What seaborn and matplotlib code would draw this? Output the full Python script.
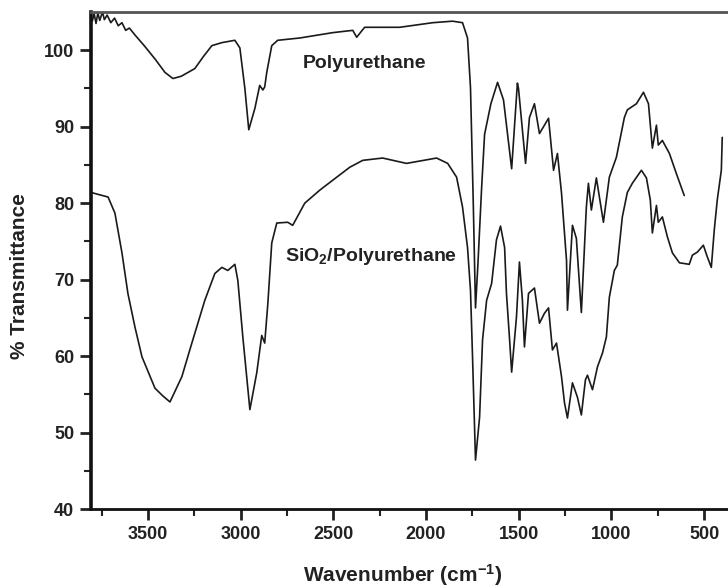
import matplotlib
matplotlib.use("Agg")
import matplotlib.pyplot as plt
import seaborn as sns
import numpy as np
import pandas as pd

# ---- data ----
pu_wn = [3807, 3800, 3790, 3780, 3770, 3760, 3745, 3735, 3720, 3700, 3680, 3660, 3640, 3620,
         3600, 3570, 3520, 3460, 3408, 3365, 3320, 3247, 3200, 3155, 3100, 3031, 3004, 2977,
         2956, 2923, 2897, 2880, 2870, 2859, 2832, 2800, 2681, 2503, 2395, 2374, 2331, 2142,
         1964, 1857, 1803, 1776, 1760, 1745, 1733, 1720, 1700, 1684, 1650, 1614, 1582, 1560,
         1538, 1507, 1501, 1463, 1442, 1415, 1388, 1366, 1339, 1312, 1291, 1269, 1242, 1237,
         1210, 1189, 1162, 1135, 1124, 1108, 1081, 1043, 1011, 973, 930, 914, 865, 827, 800,
         779, 757, 747, 725, 687, 650, 607]
pu_t = [104.0, 103.8, 104.8, 103.5, 104.9, 103.9, 105.0, 104.0, 104.6, 103.6, 104.2, 103.2, 103.6,
        102.6, 102.9, 102.0, 100.6, 98.8, 97.1, 96.3, 96.6, 97.6, 99.2, 100.6, 101.0, 101.3, 100.3,
        95.0, 89.6, 92.4, 95.4, 94.8, 95.2, 97.1, 100.6, 101.3, 101.6, 102.3, 102.6, 101.7, 103.0,
        103.0, 103.6, 103.8, 103.6, 101.6, 95.1, 80.0, 66.3, 72.0, 82.0, 89.0, 93.0, 95.8, 93.5,
        89.0, 84.5, 95.7, 95.0, 85.2, 91.2, 93.0, 89.1, 90.0, 91.1, 84.3, 86.5, 81.3, 72.5, 66.0,
        77.1, 75.4, 65.7, 79.5, 82.6, 79.1, 83.3, 77.5, 83.4, 86.0, 91.2, 92.2, 93.0, 94.5, 93.0,
        87.2, 90.2, 87.6, 88.2, 86.5, 83.9, 81.0]

sp_wn = [3807, 3715, 3678, 3640, 3608, 3570, 3532, 3462, 3420, 3381, 3317, 3263, 3193, 3139,
         3101, 3069, 3031, 3015, 2988, 2950, 2913, 2886, 2870, 2853, 2832, 2805, 2746, 2719,
         2654, 2573, 2503, 2411, 2341, 2234, 2105, 1943, 1883, 1835, 1803, 1776, 1760, 1749,
         1733, 1711, 1695, 1673, 1646, 1620, 1598, 1576, 1566, 1549, 1538, 1512, 1496, 1480,
         1469, 1447, 1415, 1388, 1361, 1339, 1318, 1296, 1269, 1253, 1237, 1210, 1183, 1162,
         1140, 1129, 1102, 1075, 1048, 1027, 1011, 984, 968, 941, 914, 887, 838, 811, 790, 779,
         757, 747, 725, 698, 671, 633, 580, 563, 536, 504, 483, 461, 445, 429, 407, 402]
sp_t = [81.4, 80.8, 78.7, 73.5, 68.2, 63.8, 59.9, 55.8, 54.8, 54.0, 57.3, 61.7, 67.3, 70.8, 71.6,
        71.2, 72.0, 69.9, 62.5, 53.0, 57.8, 62.7, 61.7, 66.9, 74.8, 77.4, 77.5, 77.1, 80.0, 81.7,
        83.0, 84.7, 85.6, 85.9, 85.2, 85.9, 85.2, 83.4, 79.5, 74.2, 68.6, 59.9, 46.4, 52.0, 62.1,
        67.3, 69.5, 75.2, 77.0, 74.2, 68.2, 62.1, 57.9, 65.1, 72.3, 67.3, 61.2, 68.2, 68.9, 64.3,
        65.6, 66.3, 60.8, 61.7, 57.3, 53.9, 51.9, 56.5, 54.6, 52.3, 56.9, 57.5, 55.6, 58.6, 60.4,
        62.5, 67.7, 71.2, 71.9, 78.2, 81.4, 82.6, 84.3, 83.3, 80.4, 76.1, 79.7, 77.5, 78.2, 75.6,
        73.5, 72.2, 72.0, 73.2, 73.6, 74.5, 73.0, 71.6, 76.5, 80.4, 84.3, 88.6]

x_ticks = [3500, 3000, 2500, 2000, 1500, 1000, 500]
y_ticks = [40, 50, 60, 70, 80, 90, 100]
label_pu = "Polyurethane"
label_sp = r"$\mathbf{SiO_2/Polyurethane}$"
x_label = r"Wavenumber (cm$^{\mathbf{-1}}$)"
y_label = "% Transmittance"

# ---- style ----
sns.set_style("ticks")
plt.rcParams['font.family'] = ['Liberation Sans', 'DejaVu Sans']
plt.rcParams['font.weight'] = 'bold'
plt.rcParams['mathtext.fontset'] = 'custom'
plt.rcParams['mathtext.rm'] = 'Liberation Sans:bold'
plt.rcParams['mathtext.bf'] = 'Liberation Sans:bold'
plt.rcParams['mathtext.it'] = 'Liberation Sans:bold'

fig = plt.figure(figsize=(7.28, 5.87), dpi=100)
ax = fig.add_axes([91/728, 1 - 509/587, 1 - 91/728, (509 - 12)/587])

df_pu = pd.DataFrame({"wn": pu_wn, "T": pu_t})
df_sp = pd.DataFrame({"wn": sp_wn, "T": sp_t})
sns.lineplot(data=df_pu, x="wn", y="T", ax=ax, color="#1a1a1a", lw=1.2, sort=False, estimator=None)
sns.lineplot(data=df_sp, x="wn", y="T", ax=ax, color="#1a1a1a", lw=1.2, sort=False, estimator=None)

ax.set_xlim(3807, 371)
ax.set_ylim(40, 105)
ax.set_xticks(x_ticks)
ax.set_yticks(y_ticks)
ax.set_xticks(np.arange(3750, 300, -500), minor=True)
ax.set_yticks(np.arange(45, 105, 10), minor=True)
ax.tick_params(axis='both', which='major', direction='out', length=8, width=2,
               labelsize=13, colors='#222222')
ax.tick_params(axis='both', which='minor', direction='out', length=5, width=1.5, color='#222222')
ax.tick_params(axis='x', which='major', pad=4)
ax.tick_params(axis='y', which='major', pad=4)
for lab in ax.get_xticklabels() + ax.get_yticklabels():
    lab.set_fontweight('bold')

ax.spines['left'].set_linewidth(2.6)
ax.spines['bottom'].set_linewidth(2.0)
ax.spines['top'].set_visible(True)
ax.spines['top'].set_linewidth(2.0)
ax.spines['top'].set_color('#555555')
ax.spines['right'].set_visible(False)
for s in ['left', 'bottom']:
    ax.spines[s].set_color('#111111')

ax.set_xlabel(x_label, fontsize=15, fontweight='bold', color='#222222')
ax.set_ylabel(y_label, fontsize=15, fontweight='bold', color='#222222')
ax.xaxis.set_label_coords((403 - 91) / 637, (509 - 562) / 497)
ax.yaxis.set_label_coords((29 - 91) / 637, (509 - 276) / 497)

ax.text(2665, 98.2, label_pu, fontsize=14, fontweight='bold', ha='left', va='center', color='#222222')
ax.text(2762, 73.0, label_sp, fontsize=14, ha='left', va='center', color='#222222')

fig.savefig("out.png", dpi=100)
